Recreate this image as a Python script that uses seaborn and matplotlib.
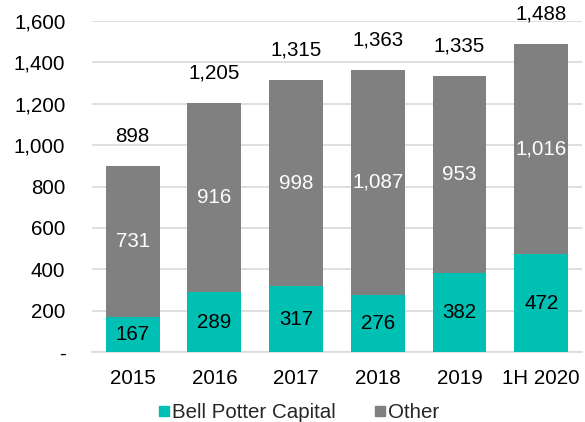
import matplotlib
matplotlib.use("Agg")
import matplotlib.pyplot as plt
from matplotlib.lines import Line2D
import seaborn as sns
import pandas as pd

periods = ["2015", "2016", "2017", "2018", "2019", "1H 2020"]
bell_potter = [167, 289, 317, 276, 382, 472]
other = [731, 916, 998, 1087, 953, 1016]
totals = [898, 1205, 1315, 1363, 1335, 1488]
yticks = [0, 200, 400, 600, 800, 1000, 1200, 1400, 1600]
ytick_labels = ["-", "200", "400", "600", "800", "1,000", "1,200", "1,400", "1,600"]

TEAL = "#00BFB3"
GREY = "#808080"
FS = 14.8

sns.set_theme(style="white")
plt.rcParams["font.family"] = ["Liberation Sans", "DejaVu Sans"]

df = pd.DataFrame({"period": periods, "bell": bell_potter, "other": other,
                   "total": [b + o for b, o in zip(bell_potter, other)]})

fig = plt.figure(figsize=(5.85, 4.22), dpi=100)
ax = fig.add_axes([0.157, 0.166, 0.838, 0.784])

sns.barplot(data=df, x="period", y="total", color=GREY, width=0.66,
            saturation=1, linewidth=0, ax=ax, zorder=3)
sns.barplot(data=df, x="period", y="bell", color=TEAL, width=0.66,
            saturation=1, linewidth=0, ax=ax, zorder=3)

for i in range(len(periods)):
    ax.text(i, bell_potter[i] / 2, f"{bell_potter[i]:,}", ha="center", va="center",
            fontsize=FS, color="black", zorder=5)
    ax.text(i, bell_potter[i] + other[i] / 2, f"{other[i]:,}", ha="center", va="center",
            fontsize=FS, color="white", zorder=5)
    ax.text(i, totals[i] + 145, f"{totals[i]:,}", ha="center", va="center",
            fontsize=FS, color="black", zorder=5, clip_on=False)

ax.set_ylim(0, 1600)
ax.set_xlim(-0.5, 5.5)
ax.set_yticks(yticks)
ax.set_yticklabels(ytick_labels)
ax.yaxis.grid(True, color="#D9D9D9", linewidth=1.2, zorder=0)
ax.set_axisbelow(True)
ax.tick_params(axis="both", length=0, labelsize=FS, colors="black")
ax.tick_params(axis="y", pad=19)
ax.tick_params(axis="x", pad=12)
ax.set_xlabel("")
ax.set_ylabel("")
for side in ["top", "right", "left"]:
    ax.spines[side].set_visible(False)
ax.spines["bottom"].set_color("#D9D9D9")
ax.spines["bottom"].set_linewidth(1.2)

handles = [
    Line2D([], [], marker="s", linestyle="", markersize=7.5, color=TEAL, label="Bell Potter Capital"),
    Line2D([], [], marker="s", linestyle="", markersize=7.5, color=GREY, label="Other"),
]
fig.legend(handles=handles, loc="center", bbox_to_anchor=(0.509, 0.022), ncol=2,
           frameon=False, fontsize=FS, handletextpad=0.05, columnspacing=1.8,
           handlelength=0.7)

fig.savefig("out.png", dpi=100)
